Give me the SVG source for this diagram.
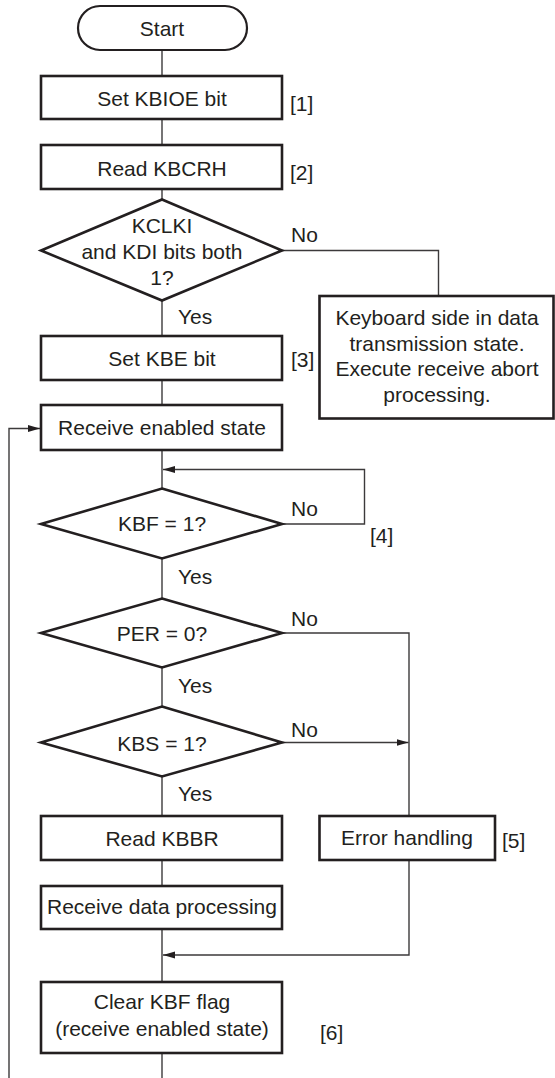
<svg xmlns="http://www.w3.org/2000/svg" width="555" height="1078" viewBox="0 0 555 1078">
<style>
.box{fill:#fff;stroke:#231f20;stroke-width:2.6}
.dia{fill:#fff;stroke:#231f20;stroke-width:2.6;stroke-linejoin:miter}
.ln{fill:none;stroke:#3c3a3b;stroke-width:1.4}
.t{font-family:"Liberation Sans",Arial,sans-serif;font-size:21px;fill:#231f20}
.c{text-anchor:middle}
</style>
<defs>
<marker id="ah" markerUnits="userSpaceOnUse" markerWidth="13" markerHeight="8" refX="12" refY="3.5" orient="auto">
<path d="M0,0 L12,3.5 L0,7 z" fill="#231f20"/>
</marker>
</defs>
<rect width="555" height="1078" fill="#fff"/>
<g id="connectors">
<line class="ln" x1="162" y1="50" x2="162" y2="76"/>
<line class="ln" x1="162" y1="119" x2="162" y2="145"/>
<line class="ln" x1="162" y1="189" x2="162" y2="199.5"/>
<line class="ln" x1="162" y1="300.5" x2="162" y2="336"/>
<path class="ln" d="M282,250.5 H438.5 V296"/>
<line class="ln" x1="162" y1="380" x2="162" y2="405"/>
<path class="ln" d="M9,1078 V428.5 H40" marker-end="url(#ah)"/>
<line class="ln" x1="162" y1="450" x2="162" y2="488.5"/>
<path class="ln" d="M282,524 H364.5 V469.5 H163" marker-end="url(#ah)"/>
<line class="ln" x1="162" y1="558.5" x2="162" y2="598.5"/>
<path class="ln" d="M282,633 H409 V955 H163" marker-end="url(#ah)"/>
<line class="ln" x1="162" y1="667.5" x2="162" y2="706.5"/>
<line class="ln" x1="282" y1="742.5" x2="408.5" y2="742.5" marker-end="url(#ah)"/>
<line class="ln" x1="162" y1="776.5" x2="162" y2="816"/>
<line class="ln" x1="162" y1="860" x2="162" y2="886"/>
<line class="ln" x1="162" y1="929" x2="162" y2="982"/>
<line class="ln" x1="162" y1="1053" x2="162" y2="1078"/>
</g>
<g id="start">
<rect class="box" x="78" y="6" width="169" height="44" rx="22" ry="22" style="stroke-width:2.2"/>
<text class="t c" x="162" y="36">Start</text>
</g>
<g id="set-kbioe">
<rect class="box" x="41" y="76" width="241" height="43"/>
<text class="t c" x="162" y="106">Set KBIOE bit</text>
<text class="t" x="290" y="111">[1]</text>
</g>
<g id="read-kbcrh">
<rect class="box" x="41" y="145" width="241" height="44"/>
<text class="t c" x="162" y="176">Read KBCRH</text>
<text class="t" x="290" y="180">[2]</text>
</g>
<g id="dec-kclki">
<polygon class="dia" points="162,199.5 282,250.5 162,300.5 41,250.5"/>
<text class="t c" x="162" y="233">KCLKI</text>
<text class="t c" x="162" y="259">and KDI bits both</text>
<text class="t c" x="162" y="285">1?</text>
<text class="t" x="291" y="242">No</text>
<text class="t" x="178" y="324">Yes</text>
</g>
<g id="keyboard-abort">
<rect class="box" x="319.5" y="296" width="234" height="122.5"/>
<text class="t c" x="437" y="325">Keyboard side in data</text>
<text class="t c" x="437" y="351">transmission state.</text>
<text class="t c" x="437" y="376">Execute receive abort</text>
<text class="t c" x="437" y="401.5">processing.</text>
</g>
<g id="set-kbe">
<rect class="box" x="41" y="336" width="241" height="44"/>
<text class="t c" x="162" y="366">Set KBE bit</text>
<text class="t" x="291" y="367">[3]</text>
</g>
<g id="receive-enabled">
<rect class="box" x="41" y="405" width="241" height="45"/>
<text class="t c" x="162" y="435">Receive enabled state</text>
</g>
<g id="dec-kbf">
<polygon class="dia" points="162,488.5 282,524 162,558.5 41,524"/>
<text class="t c" x="162" y="531">KBF = 1?</text>
<text class="t" x="291" y="516">No</text>
<text class="t" x="370" y="543">[4]</text>
<text class="t" x="178" y="584">Yes</text>
</g>
<g id="dec-per">
<polygon class="dia" points="162,598.5 282,633 162,667.5 41,633"/>
<text class="t c" x="162" y="641">PER = 0?</text>
<text class="t" x="291" y="626">No</text>
<text class="t" x="178" y="693">Yes</text>
</g>
<g id="dec-kbs">
<polygon class="dia" points="162,706.5 282,742.5 162,776.5 41,742.5"/>
<text class="t c" x="162" y="751">KBS = 1?</text>
<text class="t" x="291" y="737">No</text>
<text class="t" x="178" y="801">Yes</text>
</g>
<g id="read-kbbr">
<rect class="box" x="41" y="816" width="241" height="44"/>
<text class="t c" x="162" y="846">Read KBBR</text>
</g>
<g id="error-handling">
<rect class="box" x="319.5" y="816" width="175.5" height="44"/>
<text class="t c" x="407" y="845">Error handling</text>
<text class="t" x="502" y="848">[5]</text>
</g>
<g id="receive-data">
<rect class="box" x="41" y="886" width="241" height="43"/>
<text class="t c" x="162" y="914">Receive data processing</text>
</g>
<g id="clear-kbf">
<rect class="box" x="41" y="982" width="241" height="71"/>
<text class="t c" x="162" y="1009">Clear KBF flag</text>
<text class="t c" x="162" y="1036">(receive enabled state)</text>
<text class="t" x="320" y="1040">[6]</text>
</g>
</svg>
